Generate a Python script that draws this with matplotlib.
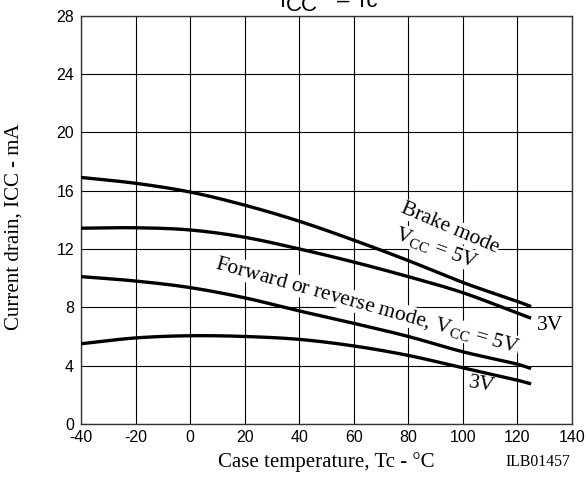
import matplotlib
matplotlib.use("Agg")
import matplotlib.pyplot as plt
import numpy as np

temps = [-40, -20, 0, 20, 40, 60, 80, 100, 120, 125]
brake_5v = [16.9, 16.5, 15.9, 15.0, 13.9, 12.6, 11.2, 9.7, 8.4, 8.05]
brake_3v = [13.42, 13.45, 13.3, 12.8, 12.0, 11.1, 10.1, 9.0, 7.6, 7.25]
fwd_5v = [10.1, 9.8, 9.35, 8.65, 7.75, 6.9, 6.0, 4.95, 4.1, 3.8]
fwd_3v = [5.5, 5.9, 6.05, 6.0, 5.8, 5.35, 4.7, 3.85, 3.0, 2.75]

xticks = [-40, -20, 0, 20, 40, 60, 80, 100, 120, 140]
yticks = [0, 4, 8, 12, 16, 20, 24, 28]

serif = "Liberation Serif"
sans = "Liberation Sans"
plt.rcParams['mathtext.fontset'] = 'custom'
plt.rcParams['mathtext.rm'] = serif
plt.rcParams['mathtext.it'] = serif + ':italic'

W, H = 586, 478
fig = plt.figure(figsize=(W/100, H/100), dpi=100)
ax = fig.add_axes([81/W, 1-424/H, (572-81)/W, (424-15.5)/H])


def hermite(x, y, n=300):
    x = np.asarray(x, float)
    y = np.asarray(y, float)
    m = np.zeros_like(y)
    m[0] = (y[1] - y[0]) / (x[1] - x[0])
    m[-1] = (y[-1] - y[-2]) / (x[-1] - x[-2])
    for i in range(1, len(x) - 1):
        m[i] = (y[i+1] - y[i-1]) / (x[i+1] - x[i-1])
    xs = np.linspace(x[0], x[-1], n)
    ys = np.empty_like(xs)
    for k, xi in enumerate(xs):
        i = min(max(np.searchsorted(x, xi) - 1, 0), len(x) - 2)
        h = x[i+1] - x[i]
        t = (xi - x[i]) / h
        h00 = 2*t**3 - 3*t**2 + 1
        h10 = t**3 - 2*t**2 + t
        h01 = -2*t**3 + 3*t**2
        h11 = t**3 - t**2
        ys[k] = h00*y[i] + h10*h*m[i] + h01*y[i+1] + h11*h*m[i+1]
    return xs, ys


for series in (brake_5v, brake_3v, fwd_5v, fwd_3v):
    xs, ys = hermite(temps, series)
    ax.plot(xs, ys, color="black", lw=2.4, solid_capstyle="butt", zorder=3)

ax.set_xlim(-40, 140)
ax.set_ylim(0, 28)
ax.set_xticks(xticks)
ax.set_yticks(yticks)
ax.set_xticklabels([str(v) for v in xticks], fontfamily=sans, fontsize=11.5)
ax.set_yticklabels([str(v) for v in yticks], fontfamily=sans, fontsize=11.5)
ax.tick_params(axis="x", length=0, pad=4)
ax.tick_params(axis="y", length=0, pad=5)
ax.grid(True, color="black", lw=0.8)
ax.set_axisbelow(True)
for s in ax.spines.values():
    s.set_linewidth(1.0)
    s.set_color("#333333")


def px(xp, yp):
    return (xp / W, 1 - yp / H)


fs = 15.5
bb = dict(facecolor="white", edgecolor="none", pad=0.3)
fig.text(*px(326, 462), "Case temperature, Tc - °C", fontfamily=serif, fontsize=15,
         ha="center", va="center")
fig.text(*px(14, 227), "Current drain, ICC - mA", fontfamily=serif, fontsize=15,
         rotation=90, ha="center", va="center")
fig.text(*px(450, 228), "Brake mode", fontfamily=serif, fontsize=fs, rotation=-23,
         ha="center", va="center", bbox=bb)
fig.text(*px(437, 248), r"V$_{\mathrm{CC}}$ = 5V", fontfamily=serif, fontsize=fs, rotation=-20,
         ha="center", va="center", bbox=bb)
fig.text(*px(550, 326), "3V", fontfamily=serif, fontsize=fs,
         ha="center", va="center", bbox=bb)
fig.text(*px(367, 305), r"Forward or reverse mode, V$_{\mathrm{CC}}$ = 5V", fontfamily=serif,
         fontsize=fs, rotation=-15.6, ha="center", va="center", bbox=bb)
fig.text(*px(482, 385), "3V", fontfamily=serif, fontsize=fs, rotation=-10,
         ha="center", va="center", bbox=bb)
fig.text(*px(538, 462), "ILB01457", fontfamily=serif, fontsize=11.3, ha="center", va="center")

# title (clipped at the top edge in the reference)
fig.text(*px(280, 7), "I", fontfamily=sans, fontsize=16, ha="left", va="baseline")
fig.text(*px(286, 11), "CC", fontfamily=sans, fontsize=16, ha="left", va="baseline")
fig.text(*px(378, 7), "– Tc", fontfamily=sans, fontsize=16, ha="right", va="baseline")

fig.savefig("out.png", dpi=100)
